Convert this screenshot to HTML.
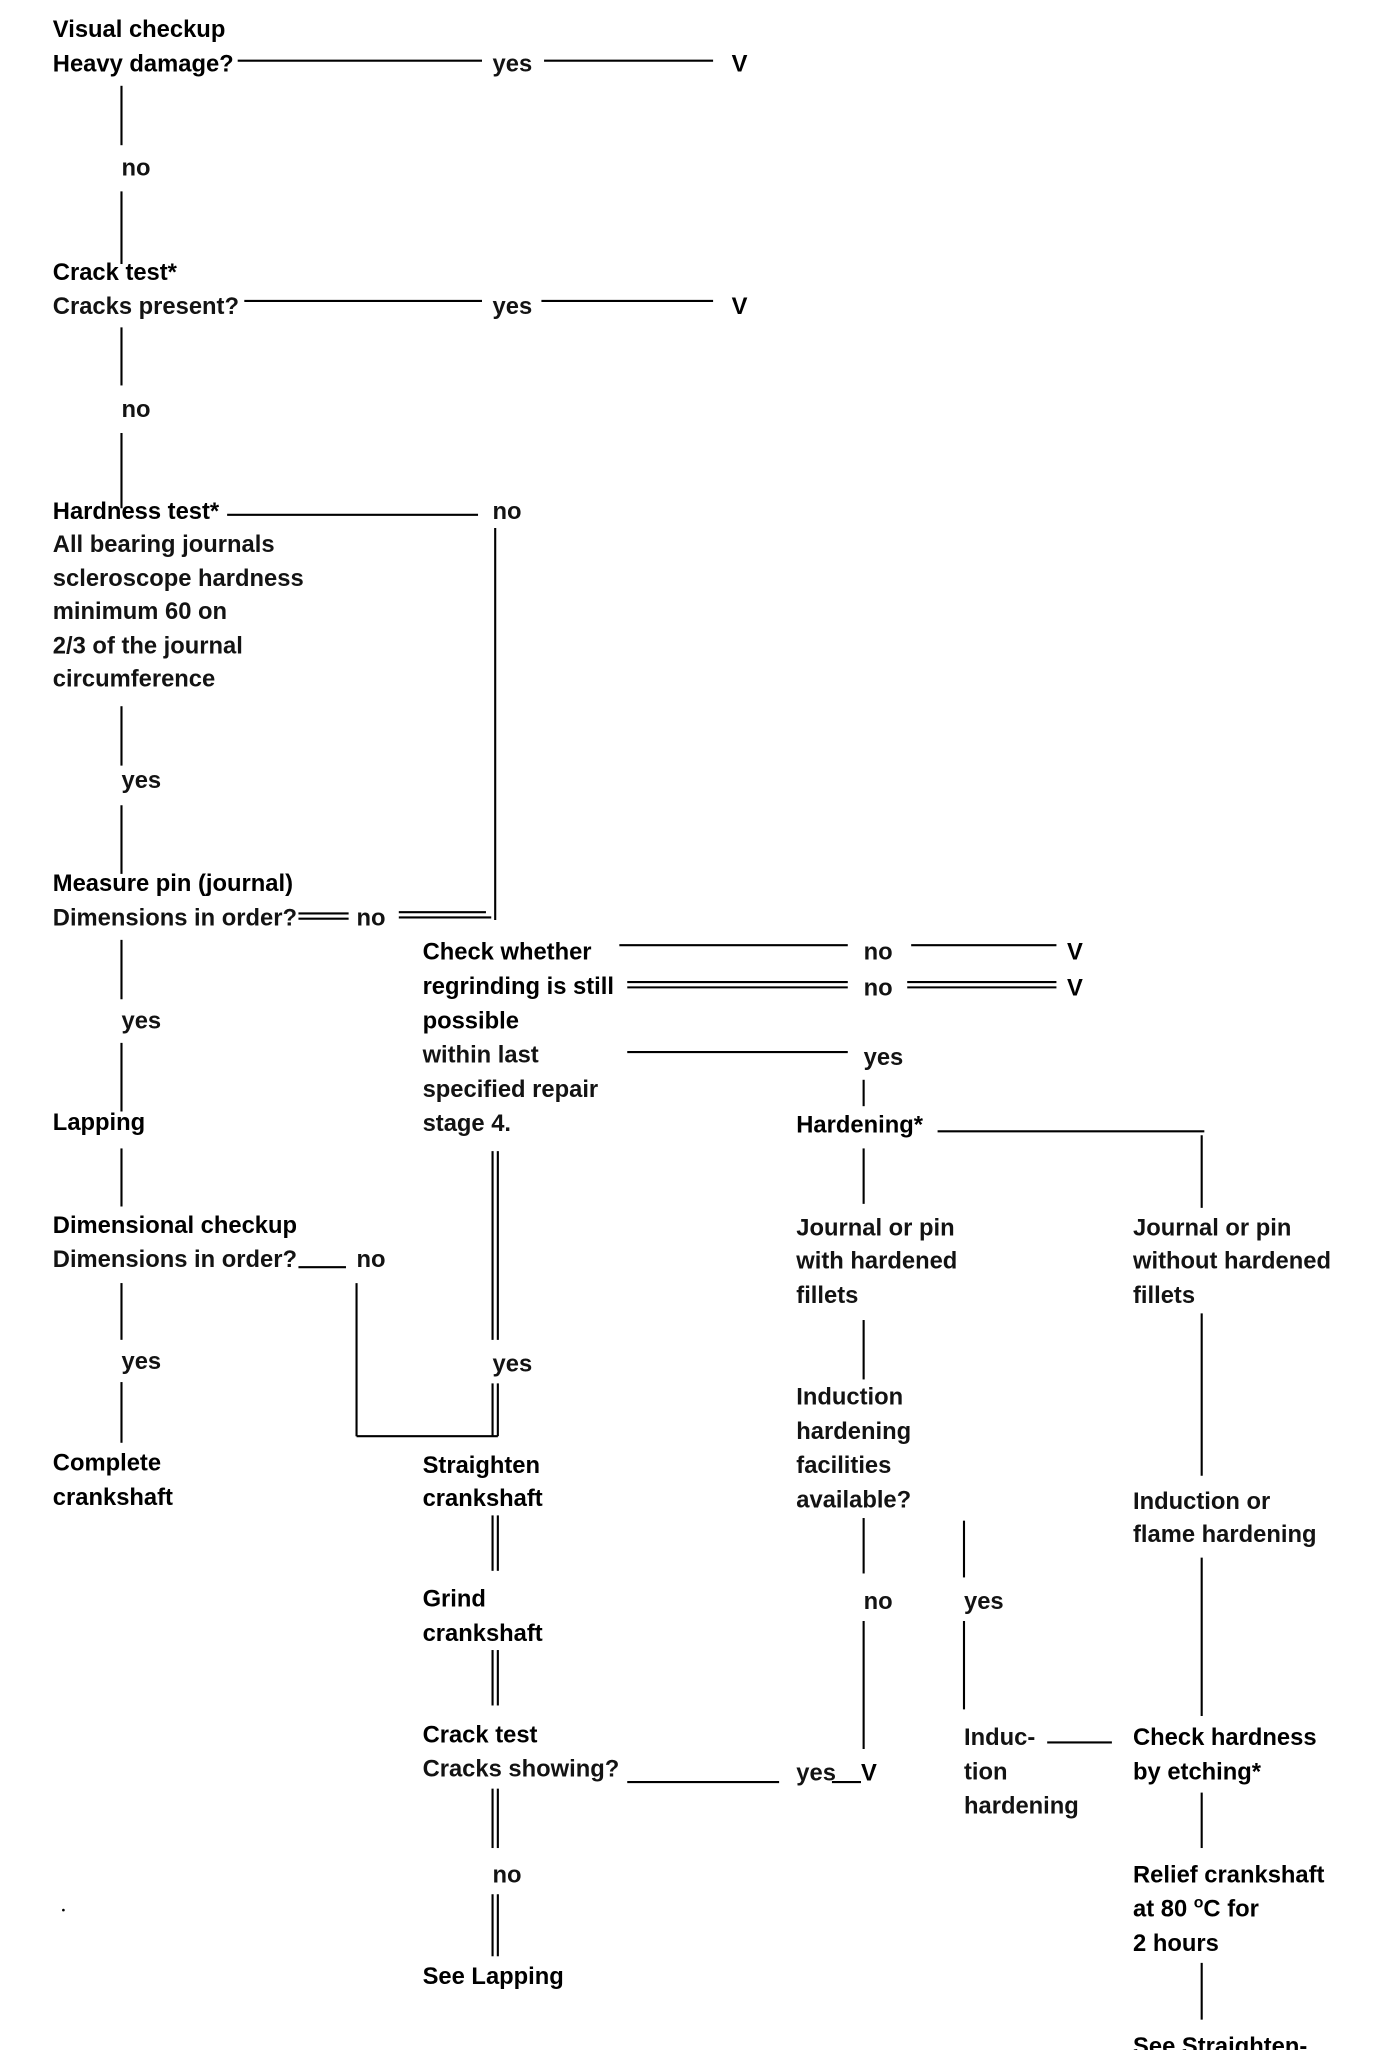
<!DOCTYPE html>
<html><head><meta charset="utf-8"><style>
html,body{margin:0;padding:0;background:#fff;}
svg{display:block;}
text{font-family:"Liberation Sans Narrow","Liberation Sans",sans-serif;font-size:18px;fill:#000;}
.b{font-weight:bold;}
.n{font-weight:bold;stroke:none;opacity:.92}
line{stroke:#000;stroke-width:1.6;}
</style></head><body>
<svg width="1376" height="2050" viewBox="0 0 1042 1553" preserveAspectRatio="none" xmlns="http://www.w3.org/2000/svg">
<g>
<text class="b" x="40" y="28">Visual checkup</text>
<text class="b" x="40" y="54">Heavy damage?</text>
<line x1="180" y1="46" x2="365" y2="46"/><text class="n" x="373" y="54">yes</text>
<line x1="412" y1="46" x2="540" y2="46"/><text class="b" x="554" y="54">V</text>
<line x1="92" y1="65" x2="92" y2="110"/><text class="n" x="92" y="133">no</text>
<line x1="92" y1="145" x2="92" y2="200"/>

<text class="b" x="40" y="212">Crack test*</text>
<text class="n" x="40" y="238">Cracks present?</text>
<line x1="185" y1="228" x2="365" y2="228"/><text class="n" x="373" y="238">yes</text>
<line x1="410" y1="228" x2="540" y2="228"/><text class="b" x="554" y="238">V</text>
<line x1="92" y1="248" x2="92" y2="292"/><text class="n" x="92" y="316">no</text>
<line x1="92" y1="328" x2="92" y2="385"/>

<text class="b" x="40" y="393">Hardness test*</text>
<line x1="172" y1="390" x2="362" y2="390"/><text class="n" x="373" y="393">no</text>
<line x1="375" y1="400" x2="375" y2="697"/>
<text class="n" x="40" y="418">All bearing  journals</text>
<text class="n" x="40" y="444">scleroscope hardness</text>
<text class="n" x="40" y="469">minimum 60 on</text>
<text class="n" x="40" y="495">2/3 of the journal</text>
<text class="n" x="40" y="520">circumference</text>
<line x1="92" y1="535" x2="92" y2="580"/><text class="n" x="92" y="597">yes</text>
<line x1="92" y1="610" x2="92" y2="662"/>

<text class="b" x="40" y="675">Measure pin (journal)</text>
<text class="n" x="40" y="701">Dimensions in order?</text>
<line x1="226" y1="692" x2="264" y2="692"/><line x1="226" y1="696" x2="264" y2="696"/>
<text class="n" x="270" y="701">no</text>
<line x1="302" y1="691" x2="368" y2="691"/><line x1="302" y1="695" x2="372" y2="695"/>
<line x1="92" y1="712" x2="92" y2="757"/><text class="n" x="92" y="779">yes</text>
<line x1="92" y1="790" x2="92" y2="842"/>

<text class="b" x="40" y="856">Lapping</text>
<line x1="92" y1="870" x2="92" y2="914"/>
<text class="b" x="40" y="934">Dimensional checkup</text>
<text class="n" x="40" y="960">Dimensions in order?</text>
<line x1="226" y1="960" x2="262" y2="960"/><text class="n" x="270" y="960">no</text>
<line x1="270" y1="972" x2="270" y2="1088"/><line x1="270" y1="1088" x2="377" y2="1088"/>
<line x1="92" y1="972" x2="92" y2="1015"/><text class="n" x="92" y="1037">yes</text>
<line x1="92" y1="1047" x2="92" y2="1093"/>
<text class="b" x="40" y="1114">Complete</text>
<text class="b" x="40" y="1140">crankshaft</text>

<text class="b" x="320" y="727">Check whether</text>
<text class="b" x="320" y="753">regrinding is still</text>
<text class="b" x="320" y="779">possible</text>
<text class="n" x="320" y="805">within last</text>
<text class="n" x="320" y="831">specified repair</text>
<text class="n" x="320" y="857">stage 4.</text>
<line x1="469" y1="716" x2="642" y2="716"/><text class="n" x="654" y="727">no</text>
<line x1="690" y1="716" x2="800" y2="716"/><text class="b" x="808" y="727">V</text>
<line x1="475" y1="744" x2="642" y2="744"/><line x1="475" y1="748" x2="642" y2="748"/>
<text class="n" x="654" y="754">no</text>
<line x1="687" y1="744" x2="800" y2="744"/><line x1="687" y1="748" x2="800" y2="748"/>
<text class="b" x="808" y="754">V</text>
<line x1="475" y1="797" x2="642" y2="797"/><text class="n" x="654" y="807">yes</text>
<line x1="654" y1="818" x2="654" y2="838"/>

<line x1="373" y1="872" x2="373" y2="1015"/><line x1="377" y1="872" x2="377" y2="1015"/>
<text class="n" x="373" y="1039">yes</text>
<line x1="373" y1="1048" x2="373" y2="1088"/><line x1="377" y1="1048" x2="377" y2="1088"/>

<text class="b" x="320" y="1116">Straighten</text>
<text class="b" x="320" y="1141">crankshaft</text>
<line x1="373" y1="1148" x2="373" y2="1190"/><line x1="377" y1="1148" x2="377" y2="1190"/>
<text class="b" x="320" y="1217">Grind</text>
<text class="b" x="320" y="1243">crankshaft</text>
<line x1="373" y1="1250" x2="373" y2="1292"/><line x1="377" y1="1250" x2="377" y2="1292"/>
<text class="b" x="320" y="1320">Crack test</text>
<text class="n" x="320" y="1346">Cracks showing?</text>
<line x1="475" y1="1350" x2="590" y2="1350"/><text class="n" x="603" y="1349">yes</text>
<line x1="630" y1="1350" x2="652" y2="1350"/><text class="b" x="652" y="1349">V</text>
<line x1="373" y1="1355" x2="373" y2="1400"/><line x1="377" y1="1355" x2="377" y2="1400"/>
<text class="n" x="373" y="1426">no</text>
<line x1="373" y1="1435" x2="373" y2="1482"/><line x1="377" y1="1435" x2="377" y2="1482"/>
<text class="b" x="320" y="1503">See Lapping</text>

<text class="b" x="603" y="858">Hardening*</text>
<line x1="710" y1="857" x2="912" y2="857"/><line x1="910" y1="860" x2="910" y2="915"/>
<line x1="654" y1="870" x2="654" y2="912"/>
<text class="n" x="603" y="936">Journal or pin</text>
<text class="n" x="603" y="961">with hardened</text>
<text class="n" x="603" y="987">fillets</text>
<line x1="654" y1="1000" x2="654" y2="1045"/>
<text class="n" x="603" y="1064">Induction</text>
<text class="n" x="603" y="1090">hardening</text>
<text class="n" x="603" y="1116">facilities</text>
<text class="n" x="603" y="1142">available?</text>
<line x1="654" y1="1150" x2="654" y2="1192"/><text class="n" x="654" y="1219">no</text>
<line x1="654" y1="1228" x2="654" y2="1325"/>
<line x1="730" y1="1152" x2="730" y2="1195"/><text class="n" x="730" y="1219">yes</text>
<line x1="730" y1="1228" x2="730" y2="1295"/>
<text class="n" x="730" y="1322">Induc-</text>
<text class="n" x="730" y="1348">tion</text>
<text class="n" x="730" y="1374">hardening</text>
<line x1="793" y1="1320" x2="842" y2="1320"/>

<text class="n" x="858" y="936">Journal or pin</text>
<text class="n" x="858" y="961">without hardened</text>
<text class="n" x="858" y="987">fillets</text>
<line x1="910" y1="995" x2="910" y2="1118"/>
<text class="n" x="858" y="1143">Induction or</text>
<text class="n" x="858" y="1168">flame hardening</text>
<line x1="910" y1="1180" x2="910" y2="1300"/>
<text class="b" x="858" y="1322">Check hardness</text>
<text class="b" x="858" y="1348">by etching*</text>
<line x1="910" y1="1358" x2="910" y2="1400"/>
<text class="b" x="858" y="1426">Relief crankshaft</text>
<text class="b" x="858" y="1452">at 80 <tspan dy="-7" font-size="12">o</tspan><tspan dy="7">C for</tspan></text>
<text class="b" x="858" y="1478">2 hours</text>
<line x1="910" y1="1487" x2="910" y2="1530"/>
<text class="b" x="858" y="1556">See Straighten-</text>
<circle cx="48" cy="1447" r="1" fill="#000"/>
</g>
</svg>
</body></html>
